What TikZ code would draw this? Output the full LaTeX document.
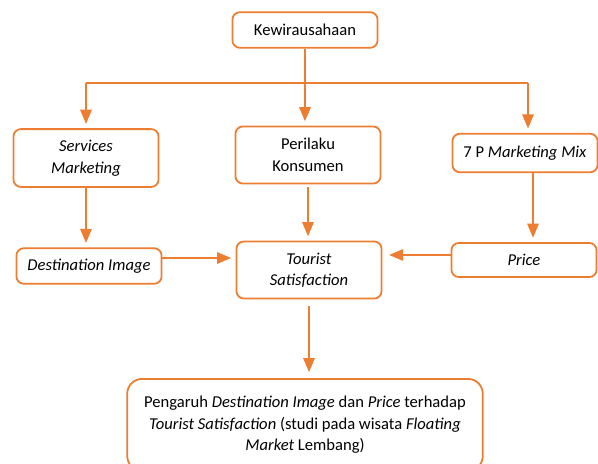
\documentclass[tikz,border=0pt]{standalone}
\usepackage{fontspec}
\setmainfont{Carlito}
\usetikzlibrary{shapes,arrows,positioning,calc}
\definecolor{kwOrange}{RGB}{237,125,49}
\tikzset{
  kbox/.style={draw=kwOrange, line width=1.2pt, rounded corners=5pt, fill=white, align=center, inner sep=2pt,
    font=\fontsize{11.2}{14.5}\selectfont},
  kline/.style={draw=kwOrange, line width=1.2pt},
  karrow/.style={kline, -triangle 45},
}

\begin{document}
\begin{tikzpicture}[x=0.675pt, y=-0.675pt]
    \useasboundingbox (0,0) rectangle (598,463);
    \clip (0,0) rectangle (598,463);

    % Top level
    \node[kbox, minimum width=98pt, minimum height=24pt] (kewira) at (305,30) {Kewirausahaan};

    % Second row
    \node[kbox, minimum width=98pt, minimum height=39pt] (services) at (86,158) {\textit{Services}\\\textit{Marketing}};
    \node[kbox, minimum width=98pt, minimum height=38.5pt] (perilaku) at (308,155) {Perilaku\\Konsumen};
    \node[kbox, minimum width=98pt, minimum height=26pt] (mix) at (525,153) {7 P \textit{Marketing Mix}};

    % Third row
    \node[kbox, minimum width=98pt, minimum height=24pt] (dest) at (89,266) {\textit{Destination Image}};
    \node[kbox, minimum width=98pt, minimum height=38.5pt] (tourist) at (309,270) {\textit{Tourist}\\\textit{Satisfaction}};
    \node[kbox, minimum width=98pt, minimum height=23pt] (price) at (524,260) {\textit{Price}};

    % Result
    \node[kbox, rounded corners=10pt, minimum width=240pt, minimum height=62pt, anchor=north] (result) at (305,378)
        {Pengaruh \textit{Destination Image} dan \textit{Price} terhadap\\
         \textit{Tourist Satisfaction} (studi pada wisata \textit{Floating}\\
         \textit{Market} Lembang)};

    % Branches
    \coordinate (brL) at (86,83);
    \coordinate (brR) at (528,83);
    \draw[kline] (brL) -- (brR);
    \draw[karrow, shorten >=3pt] (kewira.south) -- (kewira.south |- perilaku.north);
    \draw[karrow, shorten >=3pt] (brL) -- (brL |- services.north);
    \draw[karrow, shorten >=3pt] (brR) -- (brR |- mix.north);

    % Into the third row
    \draw[karrow, shorten >=3pt] (services.south) -- (services.south |- dest.north);
    \draw[karrow, shorten <=2pt, shorten >=3pt] (perilaku.south) -- (perilaku.south |- tourist.north);
    \draw[karrow, shorten >=3pt] ([xshift=5.4pt]mix.south) -- ([xshift=5.4pt]mix.south |- price.north);

    % Into Tourist Satisfaction
    \draw[karrow, shorten >=3pt] ([yshift=5.4pt]dest.east) -- ([yshift=5.4pt]dest.east -| tourist.west);
    \draw[karrow, shorten >=4.5pt] ([yshift=3.4pt]price.west) -- ([yshift=3.4pt]price.west -| tourist.east);

    % Result
    \draw[karrow, shorten <=4.5pt, shorten >=4pt] (tourist.south) -- (tourist.south |- result.north);
\end{tikzpicture}
\end{document}
